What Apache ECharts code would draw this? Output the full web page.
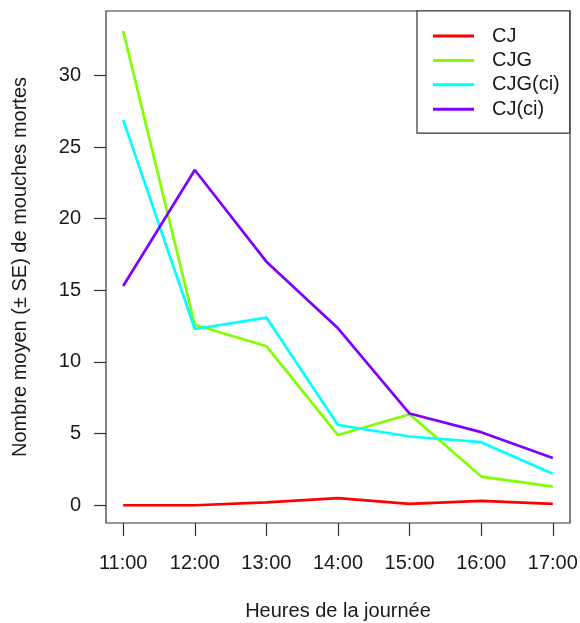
<!DOCTYPE html>
<html>
<head>
<meta charset="utf-8">
<script src="https://cdn.jsdelivr.net/npm/echarts@6/dist/echarts.min.js"></script>
<style>html,body{margin:0;padding:0;background:#fff}#c{width:580px;height:623px}</style>
</head>
<body>
<div id="c"></div>
<script>
const hours = [11, 12, 13, 14, 15, 16, 17];
const hourLabels = ['11:00', '12:00', '13:00', '14:00', '15:00', '16:00', '17:00'];
const yTicks = [0, 5, 10, 15, 20, 25, 30];
const seriesNames = ['CJ', 'CJG', 'CJG(ci)', 'CJ(ci)'];
const valuesCJ = [0, 0, 0.2, 0.5, 0.1, 0.3, 0.1];
const valuesCJG = [33.1, 12.6, 11.1, 4.9, 6.35, 2.0, 1.3];
const valuesCJGci = [26.9, 12.3, 13.1, 5.6, 4.8, 4.4, 2.2];
const valuesCJci = [15.3, 23.4, 17.0, 12.35, 6.4, 5.1, 3.3];
const colors = ['#FF0000', '#7FFF00', '#00FFFF', '#7F00FF'];

const allValues = [valuesCJ, valuesCJG, valuesCJGci, valuesCJci];
const font = 'Liberation Sans, Arial, sans-serif';
const chart = echarts.init(document.getElementById('c'), null, {renderer: 'canvas'});
chart.setOption({
  animation: false,
  backgroundColor: '#fff',
  grid: {left: 106, top: 11, right: 10, bottom: 100, show: true, borderColor: '#333', borderWidth: 1.2,
    containLabel: false, outerBoundsMode: 'none'},
  legend: {
    orient: 'vertical', left: 417, top: 11,
    data: seriesNames,
    icon: 'rect', itemWidth: 41, itemHeight: 3, itemGap: 4.4,
    padding: [15, 10, 14, 16],
    borderColor: '#333', borderWidth: 1.2,
    textStyle: {fontFamily: font, fontSize: 20, color: '#1a1a1a', lineHeight: 20, padding: [0, 0, 0, 13]},
    backgroundColor: '#fff'
  },
  xAxis: {
    type: 'value', min: 10.76, max: 17.24,
    name: 'Heures de la journée', nameLocation: 'middle', nameGap: 78,
    nameTextStyle: {fontFamily: font, fontSize: 20, color: '#1a1a1a'},
    axisLine: {show: false, onZero: false},
    axisTick: {show: true, length: 13, customValues: hours, lineStyle: {color: '#333', width: 1.2}},
    axisLabel: {customValues: hours, margin: 30, fontFamily: font, fontSize: 20, color: '#1a1a1a',
      formatter: v => hourLabels[hours.indexOf(Math.round(v))] || ''},
    splitLine: {show: false}
  },
  yAxis: {
    type: 'value', min: -1.24, max: 34.5,
    name: 'Nombre moyen (± SE) de mouches mortes', nameLocation: 'middle', nameGap: 76, nameRotate: 90,
    nameTextStyle: {fontFamily: font, fontSize: 20, color: '#1a1a1a'},
    axisLine: {show: false, onZero: false},
    axisTick: {show: true, length: 12, customValues: yTicks, lineStyle: {color: '#333', width: 1.2}},
    axisLabel: {customValues: yTicks, margin: 25, fontFamily: font, fontSize: 20, color: '#1a1a1a'},
    splitLine: {show: false}
  },
  series: seriesNames.map((n, i) => ({
    name: n, type: 'line', showSymbol: false, symbol: 'none',
    color: colors[i],
    lineStyle: {color: colors[i], width: 2.7},
    data: hours.map((h, j) => [h, allValues[i][j]])
  }))
});
</script>
</body>
</html>
